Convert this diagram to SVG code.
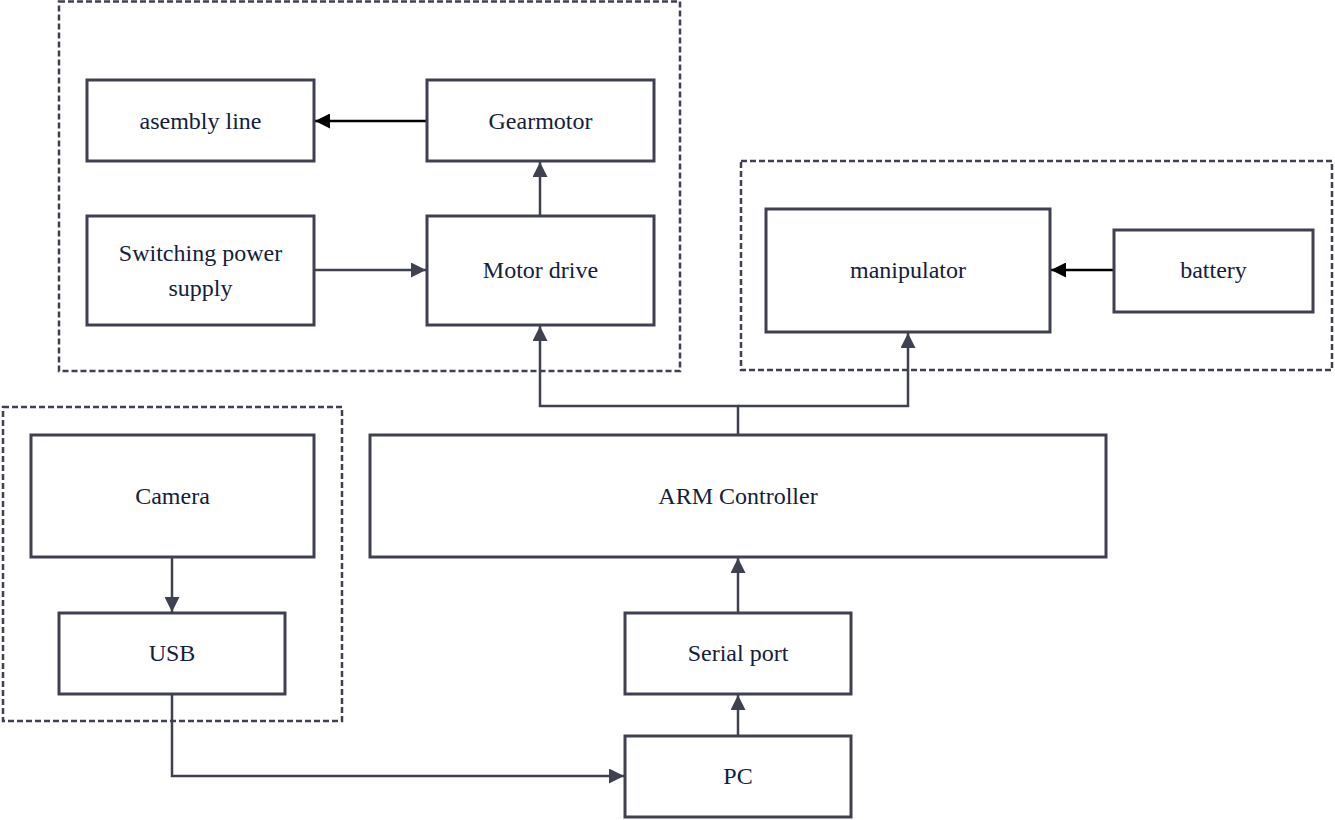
<svg xmlns="http://www.w3.org/2000/svg" width="1335" height="820" viewBox="0 0 1335 820">
<defs>
<style>
.box{fill:#ffffff;stroke:#3f4150;stroke-width:3}
.grp{fill:none;stroke:#3f4150;stroke-width:2.5;stroke-dasharray:6 3}
text{font-family:"Liberation Serif","DejaVu Serif","Times New Roman",serif;font-size:24px;fill:#13203a;text-anchor:middle;dominant-baseline:central}
.c{fill:none;stroke:#3f4150;stroke-width:2.5}
.k{fill:none;stroke:#000000;stroke-width:2.5}
</style>
<marker id="ag" viewBox="0 0 10 10" refX="10" refY="5" markerWidth="6" markerHeight="6" markerUnits="strokeWidth" orient="auto">
<path d="M0,0 L10,5 L0,10 z" fill="#3f4150"/>
</marker>
<marker id="ak" viewBox="0 0 10 10" refX="10" refY="5" markerWidth="6" markerHeight="6" markerUnits="strokeWidth" orient="auto">
<path d="M0,0 L10,5 L0,10 z" fill="#000000"/>
</marker>
</defs>
<rect width="1335" height="820" fill="#ffffff"/>
<g id="groups">
<rect class="grp" x="59" y="1.5" width="621" height="369.5"/>
<rect class="grp" x="741" y="161" width="591" height="209"/>
<rect class="grp" x="3" y="407" width="339" height="314"/>
</g>
<g id="connectors">
<line class="k" x1="427" y1="121" x2="315" y2="121" marker-end="url(#ak)"/>
<line class="c" x1="540" y1="216" x2="540" y2="162" marker-end="url(#ag)"/>
<line class="c" x1="314" y1="270" x2="426" y2="270" marker-end="url(#ag)"/>
<polyline class="c" points="738,435 738,406 540,406 540,326" marker-end="url(#ag)"/>
<polyline class="c" points="738,406 908,406 908,333" marker-end="url(#ag)"/>
<line class="k" x1="1114" y1="270" x2="1051" y2="270" marker-end="url(#ak)"/>
<line class="c" x1="172" y1="557" x2="172" y2="612" marker-end="url(#ag)"/>
<polyline class="c" points="172,694 172,776 624,776" marker-end="url(#ag)"/>
<line class="c" x1="738" y1="736" x2="738" y2="695" marker-end="url(#ag)"/>
<line class="c" x1="738" y1="613" x2="738" y2="558" marker-end="url(#ag)"/>
</g>
<g id="nodes">
<g id="asembly-line"><rect class="box" x="87" y="80" width="227" height="81"/><text x="200.5" y="120.5" font-family="Liberation Serif, serif">asembly line</text></g>
<g id="gearmotor"><rect class="box" x="427" y="80" width="227" height="81"/><text x="540.5" y="120.5">Gearmotor</text></g>
<g id="switching-power-supply"><rect class="box" x="87" y="216" width="227" height="109"/><text x="200.5" y="253">Switching power</text><text x="200.5" y="288">supply</text></g>
<g id="motor-drive"><rect class="box" x="427" y="216" width="227" height="109"/><text x="540.5" y="270">Motor drive</text></g>
<g id="manipulator"><rect class="box" x="766" y="209" width="284" height="123"/><text x="908" y="270">manipulator</text></g>
<g id="battery"><rect class="box" x="1114" y="230" width="199" height="82"/><text x="1213.5" y="270">battery</text></g>
<g id="camera"><rect class="box" x="31" y="435" width="283" height="122"/><text x="172.5" y="496">Camera</text></g>
<g id="usb"><rect class="box" x="59" y="613" width="226" height="81"/><text x="172" y="653">USB</text></g>
<g id="arm-controller"><rect class="box" x="370" y="435" width="736" height="122"/><text x="738" y="496">ARM Controller</text></g>
<g id="serial-port"><rect class="box" x="625" y="613" width="226" height="81"/><text x="738" y="653">Serial port</text></g>
<g id="pc"><rect class="box" x="625" y="736" width="226" height="81"/><text x="738" y="776">PC</text></g>
</g>
</svg>
